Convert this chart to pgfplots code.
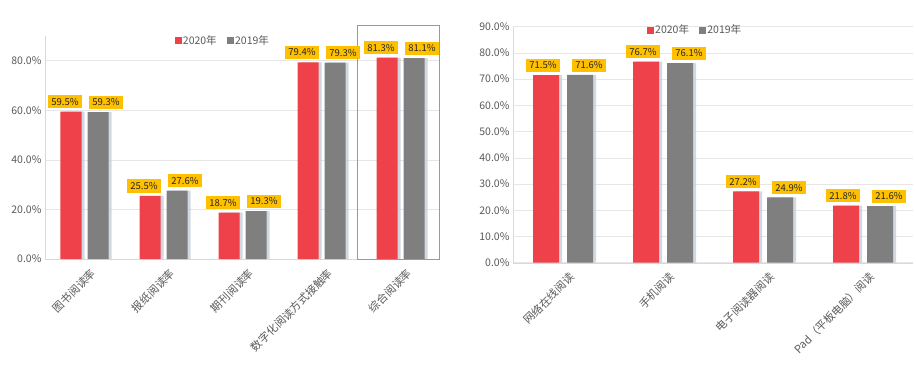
\documentclass[border=0pt]{standalone}
\usepackage{fontspec}
\setmainfont{Noto Sans CJK SC}
\usepackage{pgfplots}
\pgfplotsset{compat=1.18}
\usetikzlibrary{shadows}
\definecolor{cred}{HTML}{EE4149}
\definecolor{cgray}{HTML}{7F7F7F}
\definecolor{lab}{HTML}{FFC000}
\definecolor{gridc}{HTML}{E6E6E6}
\definecolor{tickc}{HTML}{595959}
\definecolor{axc}{HTML}{D9D9D9}
\definecolor{shc}{HTML}{C5CEDA}
\pgfplotsset{
  common/.style={
    scale only axis, anchor=south west, ybar,
    ymin=0, ymax=90,
    axis x line*=bottom, axis y line*=left,
    axis line style={draw=axc, -},
    major tick length=0pt,
    ymajorgrids, grid style={draw=gridc, line width=0.6pt},
    /pgf/number format/assume math mode=true,
    yticklabel={\pgfmathprintnumber[fixed,fixed zerofill,precision=1]{\tick}\%},
    yticklabel style={font=\fontsize{10.5}{12}\selectfont, text=tickc},
    xtick={0,1,2,3,4},
    xticklabel style={rotate=45, anchor=north east, font=\fontsize{11}{13}\selectfont, text=tickc, inner sep=1pt, yshift=-9pt, xshift=-1pt},
    nodes near coords={\pgfmathprintnumber[fixed,fixed zerofill,precision=1,assume math mode=true]{\pgfplotspointmeta}\%},
    nodes near coords style={fill=lab, text=black!85, font=\fontsize{9.5}{11}\selectfont, inner xsep=3.5pt, inner ysep=3pt, anchor=south, yshift=3pt},
    legend style={draw=none, fill=none, anchor=center, legend columns=2, font=\fontsize{10.5}{12}\selectfont, text=tickc,
      /tikz/every even column/.append style={column sep=8pt}},
    clip=false,
  },
  redbar/.style={fill=cred, draw=none, drop shadow={shadow xshift=3pt, shadow yshift=0pt, fill=shc, opacity=0.8}},
  graybar/.style={fill=cgray, draw=none, drop shadow={shadow xshift=3pt, shadow yshift=0pt, fill=shc, opacity=0.8}},
}
\begin{document}
\begin{tikzpicture}
\path (0pt,0pt) rectangle (916pt,-378pt);
% left panel
\begin{axis}[common,
  at={(45pt,-259pt)}, width=395pt, height=223pt,
  bar width=21pt,
  xmin=-0.5, xmax=4.5,
  ytick={0,20,40,60,80},
  xticklabels={图书阅读率,报纸阅读率,期刊阅读率,数字化阅读方式接触率,综合阅读率},
  legend style={at={(axis description cs:0.45,0.98)}},
]
\addlegendimage{legend image code/.code={\fill[cred] (0pt,-3pt) rectangle (6pt,3pt);}}
\addlegendimage{legend image code/.code={\fill[cgray] (0pt,-3pt) rectangle (6pt,3pt);}}
\addplot[redbar, bar shift=-13.5pt, forget plot, nodes near coords style={xshift=-6pt}] coordinates {(0,59.5) (1,25.5) (2,18.7) (3,79.4) (4,81.3)};
\addplot[graybar, bar shift=13.5pt, forget plot, nodes near coords style={xshift=8pt}] coordinates {(0,59.3) (1,27.6) (2,19.3) (3,79.3) (4,81.1)};
\legend{2020年,2019年}
\draw[draw=gray!80, line width=0.6pt] (axis cs:3.45,0) rectangle (axis cs:4.49,94.5);
\end{axis}
% right panel
\begin{axis}[common,
  at={(513pt,-262.7pt)}, width=400pt, height=236pt,
  bar width=26pt,
  xmin=-0.5, xmax=3.5,
  xtick={0,1,2,3},
  ytick={0,10,...,90},
  xticklabels={网络在线阅读,手机阅读,电子阅读器阅读,Pad（平板电脑）阅读},
  legend style={at={(axis description cs:0.455,0.986)}},
]
\addlegendimage{legend image code/.code={\fill[cred] (0pt,-3pt) rectangle (6pt,3pt);}}
\addlegendimage{legend image code/.code={\fill[cgray] (0pt,-3pt) rectangle (6pt,3pt);}}
\addplot[redbar, bar shift=-17pt, forget plot, nodes near coords style={xshift=-3pt}] coordinates {(0,71.5) (1,76.7) (2,27.2) (3,21.8)};
\addplot[graybar, bar shift=17pt, forget plot, nodes near coords style={xshift=9pt}] coordinates {(0,71.6) (1,76.1) (2,24.9) (3,21.6)};
\legend{2020年,2019年}
\end{axis}
\end{tikzpicture}
\end{document}
